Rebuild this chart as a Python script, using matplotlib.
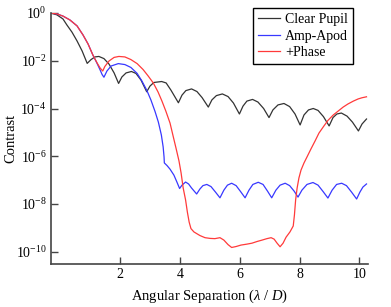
import numpy as np
import matplotlib
matplotlib.use("Agg")
import matplotlib.pyplot as plt
from matplotlib.ticker import NullLocator

plt.rcParams['font.family'] = ['Liberation Serif', 'DejaVu Serif']
plt.rcParams['mathtext.fontset'] = 'custom'
plt.rcParams['mathtext.rm'] = 'Liberation Serif'
plt.rcParams['mathtext.it'] = 'Liberation Serif:italic'

# Data (x in lambda/D, y as log10 of contrast)
clear_x = [-0.31, -0.11, 0.09, 0.22, 0.39, 0.56, 0.73, 0.90, 1.03, 1.16, 1.29, 1.46, 1.63, 1.80, 1.95,
           2.06, 2.20, 2.38, 2.53, 2.70, 2.89, 3.00, 3.13, 3.39, 3.54, 3.70, 3.95, 4.07, 4.20, 4.39,
           4.57, 4.74, 4.95, 5.07, 5.22, 5.42, 5.61, 5.79, 5.99, 6.11, 6.24, 6.43, 6.61, 6.80, 6.98,
           7.11, 7.28, 7.48, 7.67, 7.85, 8.02, 8.15, 8.30, 8.46, 8.62, 8.80, 8.99, 9.12, 9.25, 9.40,
           9.59, 9.77, 9.97, 10.09, 10.24]
clear_log = [0, -0.08, -0.25, -0.50, -0.80, -1.17, -1.59, -2.11, -1.95, -1.84, -1.82, -1.91, -2.14, -2.51, -2.95,
             -2.68, -2.51, -2.45, -2.53, -2.81, -3.30, -3.06, -2.91, -2.87, -2.93, -3.23, -3.76, -3.44, -3.25, -3.18,
             -3.29, -3.54, -3.94, -3.64, -3.46, -3.39, -3.50, -3.77, -4.23, -3.90, -3.69, -3.62, -3.73, -4.00, -4.38,
             -4.06, -3.85, -3.79, -3.92, -4.23, -4.69, -4.27, -4.06, -4.00, -4.08, -4.34, -4.73, -4.38, -4.23, -4.19,
             -4.32, -4.57, -4.94, -4.65, -4.44]

apod_x = [-0.31, -0.11, 0.09, 0.32, 0.56, 0.76, 0.93, 1.09, 1.23, 1.33, 1.40, 1.46, 1.56, 1.70, 1.94,
          2.16, 2.36, 2.57, 2.73, 2.89, 3.03, 3.17, 3.28, 3.38, 3.44, 3.47, 3.48, 3.57, 3.67, 3.80,
          3.90, 3.99, 4.07, 4.19, 4.29, 4.39, 4.56, 4.67, 4.77, 4.90, 5.04, 5.19, 5.34, 5.47, 5.59,
          5.73, 5.88, 6.03, 6.18, 6.31, 6.44, 6.62, 6.78, 6.93, 7.07, 7.21, 7.35, 7.52, 7.67, 7.82,
          7.95, 8.08, 8.25, 8.45, 8.62, 8.79, 8.95, 9.09, 9.24, 9.41, 9.57, 9.74, 9.91, 10.02, 10.12,
          10.24]
apod_log = [0, -0.04, -0.13, -0.29, -0.54, -0.92, -1.30, -1.76, -2.11, -2.38, -2.58, -2.69, -2.43, -2.22, -2.12,
            -2.16, -2.28, -2.53, -2.85, -3.23, -3.64, -4.13, -4.57, -5.11, -5.61, -6.03, -6.28, -6.39, -6.54, -6.79,
            -7.08, -7.35, -7.21, -7.08, -7.16, -7.33, -7.58, -7.37, -7.23, -7.18, -7.27, -7.50, -7.74, -7.42, -7.21,
            -7.13, -7.23, -7.48, -7.74, -7.42, -7.18, -7.09, -7.18, -7.46, -7.74, -7.42, -7.21, -7.13, -7.23, -7.46,
            -7.71, -7.42, -7.18, -7.10, -7.21, -7.48, -7.75, -7.42, -7.18, -7.13, -7.23, -7.50, -7.79, -7.50, -7.29,
            -7.16]

phase_x = [-0.31, -0.11, 0.09, 0.32, 0.56, 0.76, 0.93, 1.09, 1.23, 1.33, 1.42, 1.49, 1.63, 1.80, 1.96,
           2.16, 2.36, 2.57, 2.77, 2.94, 3.11, 3.27, 3.40, 3.53, 3.67, 3.78, 3.87, 3.97, 4.04, 4.11,
           4.19, 4.25, 4.31, 4.37, 4.47, 4.67, 4.84, 5.01, 5.17, 5.34, 5.47, 5.61, 5.73, 5.88, 6.04,
           6.24, 6.41, 6.58, 6.75, 6.91, 7.05, 7.15, 7.25, 7.35, 7.45, 7.55, 7.68, 7.79, 7.83, 7.87,
           7.92, 7.98, 8.05, 8.15, 8.25, 8.38, 8.52, 8.65, 8.80, 8.95, 9.13, 9.29, 9.46, 9.62, 9.80,
           9.96, 10.09, 10.24]
phase_log = [0, -0.04, -0.13, -0.29, -0.54, -0.92, -1.30, -1.76, -2.09, -2.30, -2.43, -2.24, -2.01, -1.86, -1.82,
             -1.84, -1.95, -2.12, -2.37, -2.64, -2.93, -3.31, -3.69, -4.11, -4.61, -5.19, -5.66, -6.20, -6.70, -7.33,
             -7.83, -8.34, -8.76, -9.03, -9.17, -9.32, -9.41, -9.44, -9.45, -9.41, -9.51, -9.70, -9.82, -9.78, -9.72,
             -9.68, -9.64, -9.57, -9.51, -9.45, -9.41, -9.47, -9.64, -9.79, -9.64, -9.39, -9.17, -8.92, -8.46, -7.83,
             -7.33, -6.91, -6.58, -6.28, -6.03, -5.70, -5.36, -5.03, -4.76, -4.50, -4.27, -4.11, -3.94, -3.81, -3.69,
             -3.60, -3.55, -3.51]

xticks = [2, 4, 6, 8, 10]
yticks = [1e0, 1e-2, 1e-4, 1e-6, 1e-8, 1e-10]

fig = plt.figure(figsize=(3.91, 3.07), dpi=100)
ax = fig.add_axes([0.1297, 0.141, 0.8107, 0.8167])

ax.plot(clear_x, 10.0 ** np.array(clear_log), color='#333333', lw=0.9, label='Clear Pupil')
ax.plot(apod_x, 10.0 ** np.array(apod_log), color='#3838ff', lw=0.9, label='Amp-Apod')
ax.plot(phase_x, 10.0 ** np.array(phase_log), color='#ff3a3a', lw=0.9, label='+Phase')

ax.set_yscale('log')
ax.set_xlim(-0.32, 10.28)
ax.set_ylim(10 ** -10.5, 1)
ax.set_xticks(xticks)
ax.set_yticks(yticks)
ax.yaxis.set_minor_locator(NullLocator())
ax.xaxis.set_minor_locator(NullLocator())

for s in ['top', 'right']:
    ax.spines[s].set_visible(False)
for s in ['left', 'bottom']:
    ax.spines[s].set_color('#444444')
    ax.spines[s].set_linewidth(1.2)

ax.tick_params(direction='in', length=5, width=1.0, color='#444444', labelsize=10, pad=3)

ax.set_xlabel(r'Angular Separation ($\lambda$ / $D$)', fontsize=10.5)
ax.xaxis.set_label_coords(0.5, -0.095)
ax.set_ylabel('Contrast', fontsize=10.5)
ax.yaxis.set_label_coords(-0.104, 0.5)

leg = ax.legend(loc='upper right', bbox_to_anchor=(352.7 / 391, 1 - 8.3 / 307),
                bbox_transform=fig.transFigure, borderaxespad=0, fontsize=10,
                handlelength=1.6, handletextpad=0.35, labelspacing=0.25,
                borderpad=0.35, fancybox=False, framealpha=1)
leg.get_frame().set_edgecolor('black')
leg.get_frame().set_linewidth(1.0)

fig.savefig('out.png', dpi=100)
